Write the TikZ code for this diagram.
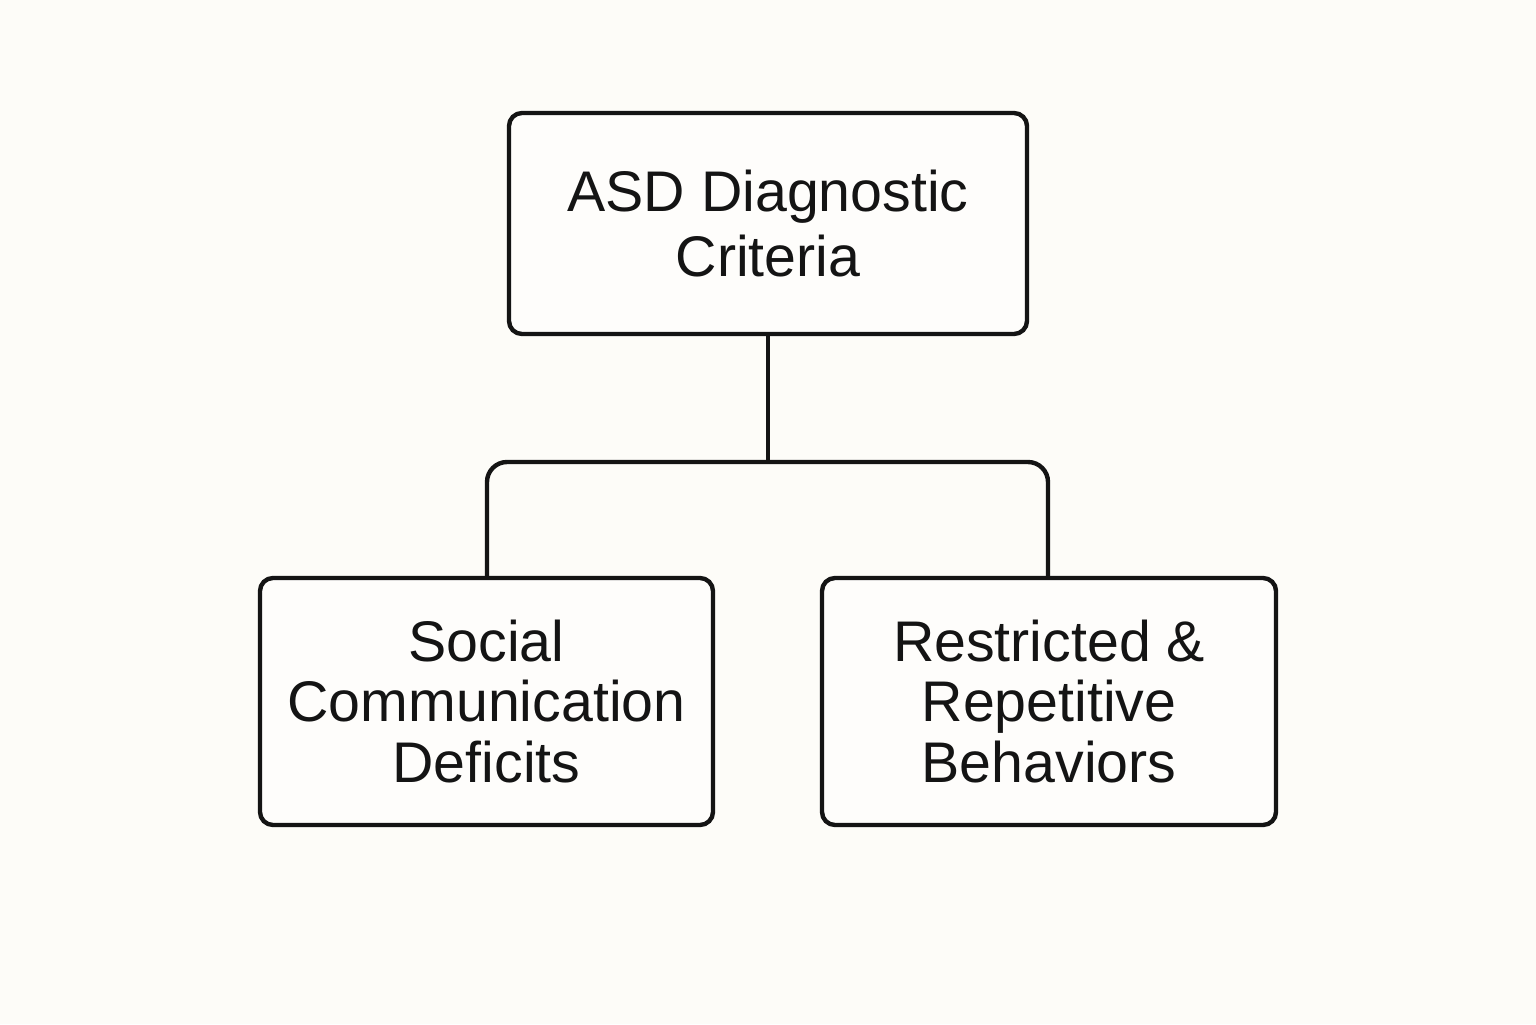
\documentclass[tikz,border=0pt]{standalone}
\usepackage{fontspec}
\setmainfont{Liberation Sans}
\usepackage{tikz}
\definecolor{paper}{RGB}{253,252,248}
\definecolor{ink}{RGB}{20,20,20}
\tikzset{
  critbox/.style={draw=ink,line width=1.25pt,rounded corners=1.3mm,fill=white!40!paper,
    align=center,inner sep=0pt,text=ink,font=\fontsize{16.3}{18.6}\selectfont},
  branch/.style={draw=ink,line width=1.25pt}
}
\begin{document}
\begin{tikzpicture}
  \fill[paper] (0,0) rectangle (15.36,10.24);
  \useasboundingbox (0,0) rectangle (15.36,10.24);
\node[critbox,minimum width=5.18cm,minimum height=2.21cm] (top) at (7.68,8.005)
  {ASD Diagnostic\\Criteria};
\node[critbox,minimum width=4.53cm,minimum height=2.47cm,font=\fontsize{16.3}{17.2}\selectfont] (lft) at (4.865,3.225)
  {Social\\Communication\\Deficits};
\node[critbox,minimum width=4.54cm,minimum height=2.47cm,font=\fontsize{16.3}{17.2}\selectfont] (rgt) at (10.49,3.225)
  {Restricted \&\\Repetitive\\Behaviors};
\coordinate (split) at (7.68,5.62);
\draw[branch] (top.south) -- (split);
\draw[branch,rounded corners=2mm] (lft.north -| 4.87,0) |- (split) -| (rgt.north -| 10.48,0);
\end{tikzpicture}
\end{document}
